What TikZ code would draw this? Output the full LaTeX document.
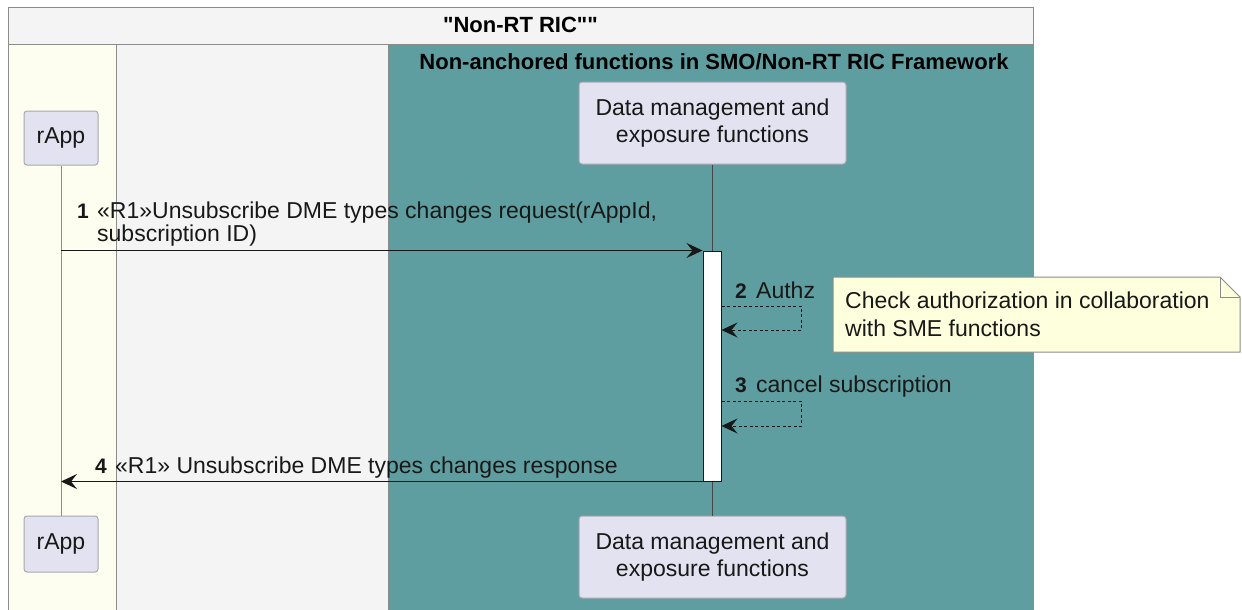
\documentclass[tikz,border=0pt]{standalone}
\usepackage{fontspec}
\setmainfont{Liberation Sans}[Ligatures=TeXOff]
\usetikzlibrary{arrows.meta}

\definecolor{boxgray}{HTML}{F4F4F4}
\definecolor{framegray}{HTML}{8C8C8C}
\definecolor{laneivory}{HTML}{FEFEF0}
\definecolor{frameteal}{HTML}{5F9EA0}
\definecolor{partfill}{HTML}{E2E2F0}
\definecolor{partline}{HTML}{A8A8B0}
\definecolor{notefill}{HTML}{FEFFDD}
\definecolor{inkdark}{HTML}{181818}

\tikzset{
  txt/.style={font=\fontsize{23}{27.5}\selectfont, text=inkdark},
  part/.style={txt, draw=partline, fill=partfill, rounded corners=3pt,
    line width=1pt, align=center, inner sep=0pt},
  lifeline/.style={draw=framegray, line width=1pt},
  actbar/.style={draw=inkdark, fill=white, line width=1pt, inner sep=0pt,
    minimum width=18, minimum height=230},
  tip/.style={-{Stealth[length=16pt, width=15pt, inset=6pt]}},
  msg/.style={draw=inkdark, line width=1.2pt, tip},
  selfmsg/.style={draw=inkdark, line width=1pt, dash pattern=on 3pt off 2.5pt, tip},
  lbl/.style={txt, inner sep=0pt, anchor=base west},
  num/.style={lbl, font=\fontsize{21}{27.5}\selectfont\bfseries},
  frametitle/.style={font=\fontsize{22}{28}\selectfont\bfseries, text=black, inner sep=0pt}
}

\begin{document}
\begin{tikzpicture}[x=1pt, y=-1pt]
\useasboundingbox (0,0) rectangle (1242,610);
\fill[white] (0,0) rectangle (1242,610);

% outer Non-RT RIC box
\draw[framegray, fill=boxgray, line width=1pt] (8,8) rectangle (1033,615);
\draw[framegray, line width=1pt] (8,45) -- (1033,45);
\node[frametitle] (rictitle) at (520.5,25) {"Non-RT RIC""};

% rApp lane
\draw[framegray, fill=laneivory, line width=1pt] (8,45) rectangle (116,615);

% framework group
\draw[framegray, fill=frameteal, line width=1pt] (388,45) rectangle (1033,615);
\node[frametitle] (grptitle) at (714,62) {Non-anchored functions in SMO/Non-RT RIC Framework};

% participants
\node[part, minimum width=74, minimum height=54] (rtop) at (61,138) {rApp};
\node[part, minimum width=74, minimum height=56] (rbot) at (61,544) {rApp};
\node[part, minimum width=267, minimum height=82] (dtop) at (712.5,123)
  {Data management and\\exposure functions};
\node[part, minimum width=267, minimum height=82] (dbot) at (712.5,557)
  {Data management and\\exposure functions};

% lifelines
\draw[lifeline] (rtop.south) -- (rbot.north);
\draw[lifeline, draw=inkdark!80] (dtop.south) -- (dbot.north);

% activation
\node[actbar] (act) at (712,366) {};

% 1: request
\draw[msg] (rtop.south |- act.north west) -- (act.north west);
\node[num] (n1) at (77,218) {1};
\node[lbl] (m1a) at (97,218) {«R1»Unsubscribe DME types changes request(rAppId,};
\node[lbl] (m1b) at (97,241) {subscription ID)};

% 2: Authz
\coordinate (s2a) at (act.east |- 0,306);
\coordinate (s2b) at (act.east |- 0,330);
\draw[selfmsg] (s2a) -- ++(80,0) |- (s2b);
\node[num] (n2) at (735,298) {2};
\node[lbl] (m2) at (756,298) {Authz};

% note
\draw[framegray, fill=notefill, line width=1pt]
  (833,277) -- (1220,277) -- (1240,297) -- (1240,352) -- (833,352) -- cycle;
\draw[framegray, line width=1pt] (1220,277) -- (1220,297) -- (1240,297);
\node[lbl] (note1) at (845,308) {Check authorization in collaboration};
\node[lbl] (note2) at (845,336) {with SME functions};

% 3: cancel subscription
\coordinate (s3a) at (act.east |- 0,401);
\coordinate (s3b) at (act.east |- 0,426);
\draw[selfmsg] (s3a) -- ++(80,0) |- (s3b);
\node[num] (n3) at (735,392) {3};
\node[lbl] (m3) at (756,392) {cancel subscription};

% 4: response
\draw[msg] (act.south west) -- (rtop.south |- act.south west);
\node[num] (n4) at (95,473) {4};
\node[lbl] (m4) at (115,473) {«R1» Unsubscribe DME types changes response};
\end{tikzpicture}
\end{document}
